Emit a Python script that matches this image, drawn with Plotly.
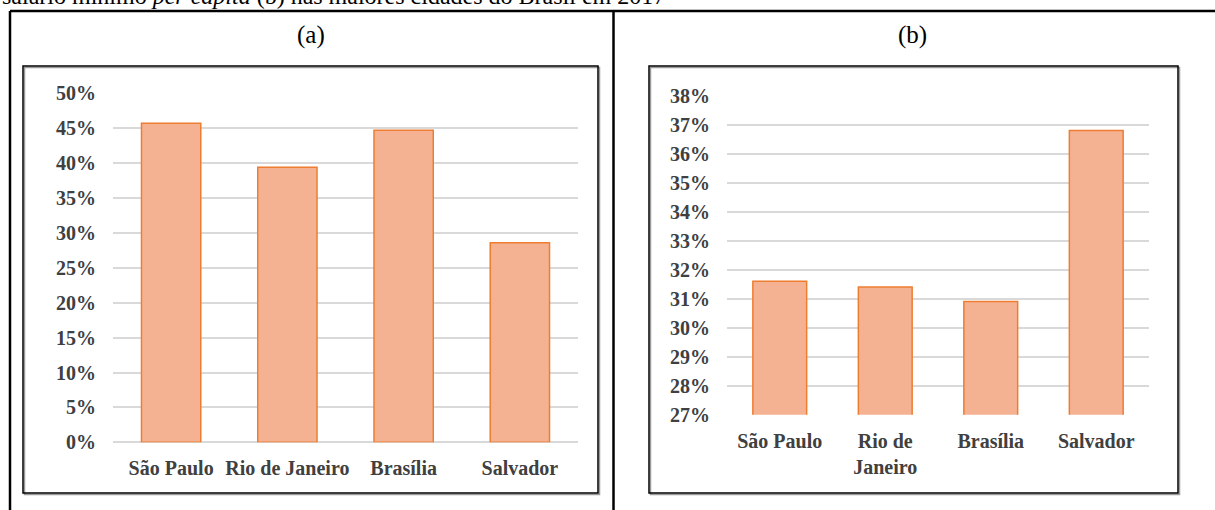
import plotly.graph_objects as go

W, H = 1215, 510

# Data
cities = ["São Paulo", "Rio de Janeiro", "Brasília", "Salvador"]
labels_a = ["São Paulo", "Rio de Janeiro", "Brasília", "Salvador"]
labels_b = ["São Paulo", "Rio de<br>Janeiro", "Brasília", "Salvador"]
share_a = [45.7, 39.4, 44.7, 28.6]   # panel (a), %
share_b = [31.6, 31.4, 30.9, 36.8]   # panel (b), %

BAR_FILL = "#F5B293"
BAR_LINE = "#ED7D31"
GRID = "#D9D9D9"
LABEL_FONT = dict(family="Liberation Serif", size=20, color="#404040", weight="bold")


def px(x):
    return x / W


def py(y):
    return 1 - y / H


fig = go.Figure()
fig.add_trace(go.Bar(x=cities, y=share_a, xaxis="x", yaxis="y",
                     marker=dict(color=BAR_FILL, line=dict(color=BAR_LINE, width=1.5)),
                     showlegend=False))
fig.add_trace(go.Bar(x=cities, y=share_b, xaxis="x2", yaxis="y2",
                     marker=dict(color=BAR_FILL, line=dict(color=BAR_LINE, width=1.5)),
                     showlegend=False))

axis_common = dict(showline=False, ticks="", tickfont=LABEL_FONT)

fig.update_layout(
    width=W, height=H,
    margin=dict(l=0, r=0, t=0, b=0, autoexpand=False),
    paper_bgcolor="white", plot_bgcolor="white",
    bargap=0.49,
    xaxis=dict(domain=[px(113), px(578)], anchor="y", tickvals=cities, ticktext=labels_a,
               showgrid=False, ticklabelstandoff=12, **axis_common),
    yaxis=dict(domain=[py(442.3), py(93.3)], anchor="x", range=[0, 50], dtick=5, ticksuffix="%",
               showgrid=True, gridcolor=GRID, gridwidth=1.5,
               zeroline=True, zerolinecolor=GRID, zerolinewidth=1.5,
               ticklabelstandoff=16, **axis_common),
    xaxis2=dict(domain=[px(727), px(1149)], anchor="y2", tickvals=cities, ticktext=labels_b,
                showgrid=False, ticklabelstandoff=12, **axis_common),
    yaxis2=dict(domain=[py(414.7), py(95.7)], anchor="x2", range=[27, 38], dtick=1, ticksuffix="%",
                showgrid=True, gridcolor=GRID, gridwidth=1.5,
                zeroline=False, ticklabelstandoff=16, **axis_common),
)

shapes = []
# Table frame
tbl = dict(color="black", width=2.5)
shapes.append(dict(type="line", xref="paper", yref="paper", x0=px(10), x1=1.01, y0=py(11), y1=py(11), line=tbl))
shapes.append(dict(type="line", xref="paper", yref="paper", x0=px(10), x1=px(10), y0=py(11), y1=-0.01, line=tbl))
shapes.append(dict(type="line", xref="paper", yref="paper", x0=px(613.5), x1=px(613.5), y0=py(11), y1=-0.01, line=tbl))

# Chart frames with a soft shadow
for (x0, y0, x1, y1) in [(23, 66, 598, 493), (649, 66, 1178, 493)]:
    shapes.append(dict(type="rect", xref="paper", yref="paper", x0=px(x0 + 1.5), x1=px(x1 + 1.5),
                       y0=py(y1 + 1.5), y1=py(y0 + 1.5), line=dict(color="#9A9A9A", width=1.5),
                       fillcolor="rgba(0,0,0,0)", layer="below"))
    shapes.append(dict(type="rect", xref="paper", yref="paper", x0=px(x0), x1=px(x1),
                       y0=py(y1), y1=py(y0), line=dict(color="black", width=1.5),
                       fillcolor="rgba(0,0,0,0)", layer="below"))
fig.update_layout(shapes=shapes)

annotations = [
    dict(text="(a)", x=px(311), y=py(35), xref="paper", yref="paper", showarrow=False,
         xanchor="center", yanchor="middle",
         font=dict(family="Liberation Serif", size=25, color="black")),
    dict(text="(b)", x=px(912), y=py(35), xref="paper", yref="paper", showarrow=False,
         xanchor="center", yanchor="middle",
         font=dict(family="Liberation Serif", size=25, color="black")),
    dict(text="salário mínimo <i>per capita</i> (b) nas maiores cidades do Brasil em 2017",
         x=0, y=py(-4), xref="paper", yref="paper", xanchor="left", yanchor="middle", showarrow=False,
         font=dict(family="Liberation Serif", size=24, color="black")),
]
fig.update_layout(annotations=annotations)

fig.write_html("out.html")
